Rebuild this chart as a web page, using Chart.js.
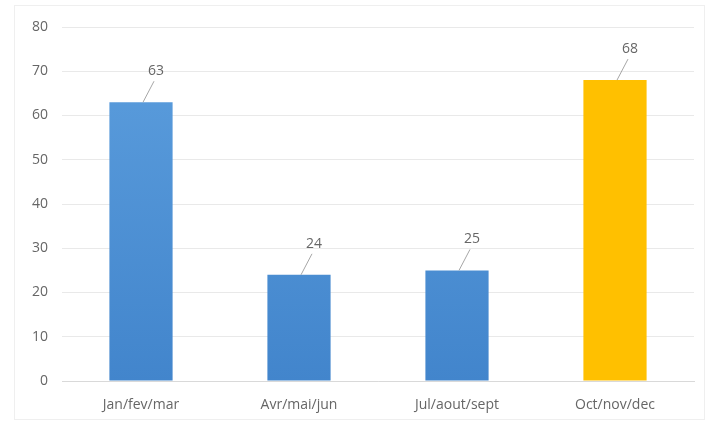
<!DOCTYPE html>
<html>
<head>
<meta charset="utf-8">
<script src="https://cdn.jsdelivr.net/npm/chart.js@4/dist/chart.umd.min.js"></script>
<style>
  html, body { margin: 0; padding: 0; background: #fff; }
  #wrap { width: 710px; height: 424px; position: relative; }
</style>
</head>
<body>
<div id="wrap"><canvas id="c" width="710" height="424"></canvas></div>
<script>
// Quarterly totals
const categories = ['Jan/fev/mar', 'Avr/mai/jun', 'Jul/aout/sept', 'Oct/nov/dec'];
const values = [63, 24, 25, 68];
const yTicks = [0, 10, 20, 30, 40, 50, 60, 70, 80];
const highlightIndex = 3;

const ctx = document.getElementById('c').getContext('2d');

function blueGradient(chart) {
  const area = chart.chartArea;
  if (!area) return '#5b9bd5';
  const g = chart.ctx.createLinearGradient(0, area.top, 0, area.bottom);
  g.addColorStop(0, '#5d9fde');
  g.addColorStop(1, '#4285cc');
  return g;
}

// Value labels with a short leader line, plus a faint outer frame
const calloutPlugin = {
  id: 'callouts',
  beforeDraw(chart) {
    const c = chart.ctx;
    c.save();
    c.strokeStyle = '#efefef';
    c.lineWidth = 1;
    c.strokeRect(14.5, 5.5, 690, 414);
    c.restore();
  },
  afterDatasetsDraw(chart) {
    const c = chart.ctx;
    const meta = chart.getDatasetMeta(0);
    c.save();
    c.font = '14px "Open Sans", sans-serif';
    c.fillStyle = '#666666';
    c.textAlign = 'center';
    c.textBaseline = 'middle';
    meta.data.forEach((bar, i) => {
      const lx = bar.x + 15;
      const ly = bar.y - 31;
      c.strokeStyle = '#a6a6a6';
      c.lineWidth = 1;
      c.beginPath();
      c.moveTo(bar.x + 2, bar.y);
      c.lineTo(lx - 2, ly + 10);
      c.stroke();
      c.fillText(String(values[i]), lx, ly);
    });
    c.restore();
  }
};

new Chart(ctx, {
  type: 'bar',
  data: {
    labels: categories,
    datasets: [{
      data: values,
      backgroundColor: (context) => context.dataIndex === highlightIndex ? '#ffc000' : blueGradient(context.chart),
      borderWidth: 0,
      categoryPercentage: 1,
      barPercentage: 0.4
    }]
  },
  options: {
    responsive: false,
    animation: false,
    devicePixelRatio: 1,
    layout: { padding: { top: 27, right: 16, bottom: 8, left: 18 } },
    plugins: { legend: { display: false }, tooltip: { enabled: false } },
    scales: {
      x: {
        grid: { display: false, drawTicks: false },
        border: { color: '#d9d9d9' },
        ticks: { color: '#666666', font: { family: '"Open Sans", sans-serif', size: 14 }, padding: 16 },
        afterFit(scale) { scale.height = 35; }
      },
      y: {
        min: 0, max: 80,
        afterBuildTicks(scale) { scale.ticks = yTicks.map(v => ({ value: v })); },
        grid: { color: '#e9e9e9', drawTicks: false },
        border: { display: false },
        ticks: { color: '#666666', font: { family: '"Open Sans", sans-serif', size: 14 }, padding: 14 },
        afterFit(scale) { scale.width = 44; }
      }
    }
  },
  plugins: [calloutPlugin]
});
</script>
</body>
</html>
